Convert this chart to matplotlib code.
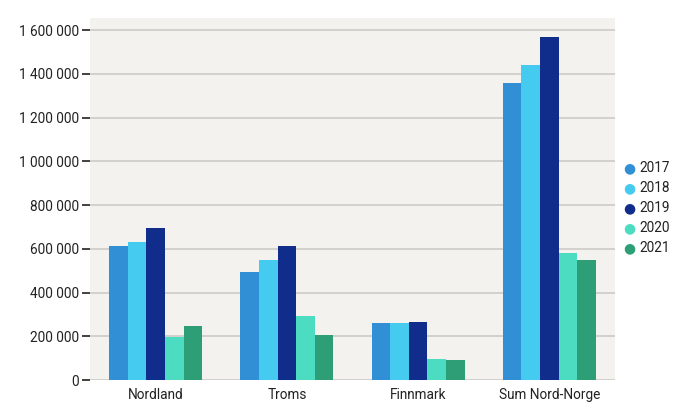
import numpy as np
import matplotlib.pyplot as plt
from matplotlib.ticker import FuncFormatter
from matplotlib import font_manager

# data
regions = ['Nordland', 'Troms', 'Finnmark', 'Sum Nord-Norge']
years = ['2017', '2018', '2019', '2020', '2021']
v2017 = [612000, 494000, 261000, 1358000]
v2018 = [631000, 549000, 261000, 1440000]
v2019 = [695000, 612000, 265000, 1568000]
v2020 = [198000, 293000, 96000, 581000]
v2021 = [247000, 206000, 91000, 549000]
colors = ['#318FD5', '#45CBEF', '#112D8C', '#4BDCC1', '#2E9E76']

names = {f.name for f in font_manager.fontManager.ttflist}
fam = 'Liberation Sans Narrow' if 'Liberation Sans Narrow' in names else 'Roboto'
plt.rcParams['font.family'] = [fam, 'DejaVu Sans']
fs = 10.5 if fam == 'Liberation Sans Narrow' else 9.8

fig = plt.figure(figsize=(6.78, 4.18), dpi=100)
ax = fig.add_axes([90/678, 38/418, 525/678, 362/418])
ax.set_facecolor('#F3F2EE')

x = np.arange(len(regions))
w = 0.142
series = [v2017, v2018, v2019, v2020, v2021]
for i, (vals, c) in enumerate(zip(series, colors)):
    ax.bar(x + (i - 2) * w, vals, w, color=c, zorder=3)

ax.set_xlim(-0.5, 3.5)
ax.set_ylim(0, 1655000)
ax.set_yticks(np.arange(0, 1600001, 200000))
ax.yaxis.set_major_formatter(FuncFormatter(lambda v, p: f"{v:,.0f}".replace(',', ' ')))
ax.grid(axis='y', color='#CDCBC7', linewidth=1.2, zorder=0)
for s in ax.spines.values():
    s.set_visible(False)
ax.tick_params(axis='y', length=6, width=1.3, color='#333333', labelsize=fs,
               labelcolor='#222222', pad=2)
ax.tick_params(axis='x', length=0, labelsize=fs, labelcolor='#222222', pad=6)
ax.set_xticks(x)
ax.set_xticklabels(regions)

# legend with round markers
for i, (yr, c) in enumerate(zip(years, colors)):
    yy = (418 - 168 - 20 * i) / 418
    fig.text(629/678, yy, '\u25CF', color=c, fontsize=10, ha='center', va='center',
             family='DejaVu Sans')
    fig.text(639/678, yy, yr, color='#222222', fontsize=fs, ha='left', va='center')

plt.savefig('out.png', dpi=100)
